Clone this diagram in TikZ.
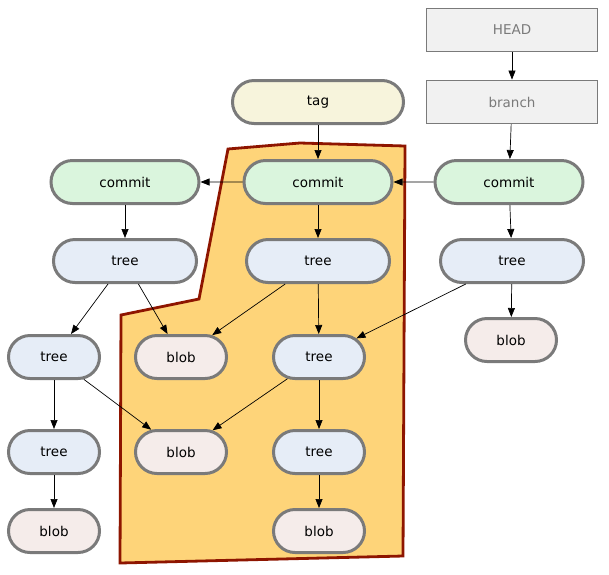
\documentclass[tikz,border=0pt]{standalone}
\usepackage{fontspec}
\setmainfont{DejaVu Sans}
\usetikzlibrary{shapes.misc,arrows.meta}
\definecolor{refgray}{HTML}{7A7A7A}
\definecolor{reffill}{HTML}{F1F1F1}
\definecolor{tagfill}{HTML}{F7F4DC}
\definecolor{commitfill}{HTML}{DAF5DD}
\definecolor{treefill}{HTML}{E6EDF7}
\definecolor{blobfill}{HTML}{F5ECEA}
\definecolor{areafill}{HTML}{FED479}
\definecolor{areadraw}{HTML}{8E1500}
\tikzset{
  obj/.style={rounded rectangle, draw=refgray, line width=3pt,
    minimum height=43pt, inner sep=0pt, font=\fontsize{13.5}{15}\selectfont},
  wide/.style={obj, minimum width=148pt},
  small/.style={obj, minimum width=91pt},
  ref/.style={rectangle, draw=refgray, line width=1.8pt, fill=reffill,
    minimum width=171pt, minimum height=43pt, text=refgray,
    font=\fontsize{13.5}{15}\selectfont},
  edge/.style={-{Triangle[length=9pt,width=7pt]}, line width=0.7pt}
}
\begin{document}
\begin{tikzpicture}[x=1pt,y=-1pt]
      \useasboundingbox (0,0) rectangle (609,574);
      % area of the tagged history
      \draw[line width=2.8pt, draw=areadraw, fill=areafill, line join=miter]
        (228,149) -- (300,143) -- (405,146) -- (403,556) -- (120,563)
        -- (121,315) -- (199,299) -- cycle;
      % refs
      \node[ref] (head) at (512,30) {HEAD};
      \node[ref] (branch) at (512,102) {branch};
      \node[wide, minimum width=171pt, fill=tagfill] (tag) at (318,102) {tag};
      % commits
      \node[wide, fill=commitfill] (c0) at (125,182) {commit};
      \node[wide, fill=commitfill] (c1) at (318,182) {commit};
      \node[wide, fill=commitfill] (c2) at (509,182) {commit};
      % trees
      \node[wide, minimum width=143pt, fill=treefill] (t0) at (125,261) {tree};
      \node[wide, minimum width=143pt, fill=treefill] (t1) at (318,261) {tree};
      \node[wide, minimum width=143pt, fill=treefill] (t2) at (512,261) {tree};
      \node[small, fill=treefill] (t3) at (54,357) {tree};
      \node[small, fill=treefill] (t4) at (319,357) {tree};
      \node[small, fill=treefill] (t5) at (54,452) {tree};
      \node[small, fill=treefill] (t6) at (319,452) {tree};
      % blobs
      \node[small, fill=blobfill] (b0) at (511,340) {blob};
      \node[small, fill=blobfill] (b1) at (181,357) {blob};
      \node[small, fill=blobfill] (b2) at (181,452) {blob};
      \node[small, fill=blobfill] (b3) at (54,531) {blob};
      \node[small, fill=blobfill] (b4) at (319,531) {blob};
      \begin{scope}[edge]
        \draw (head) to (branch);
        \draw (branch) to (c2);
        \draw (tag) to (c1);
        \draw (c2) to (c1);
        \draw (c1) to (c0);
        \draw (c0) to (t0);
        \draw (c1) to (t1);
        \draw (c2) to (t2);
        \draw (t2) to (b0);
        \draw (t2) to (t4);
        \draw (t0) to (t3);
        \draw (t0) to (b1);
        \draw (t1) to (b1);
        \draw (t1) to (t4);
        \draw (t3) to (b2);
        \draw (t4) to (b2);
        \draw (t3) to (t5);
        \draw (t4) to (t6);
        \draw (t5) to (b3);
        \draw (t6) to (b4);
      \end{scope}
    \end{tikzpicture}
\end{document}
